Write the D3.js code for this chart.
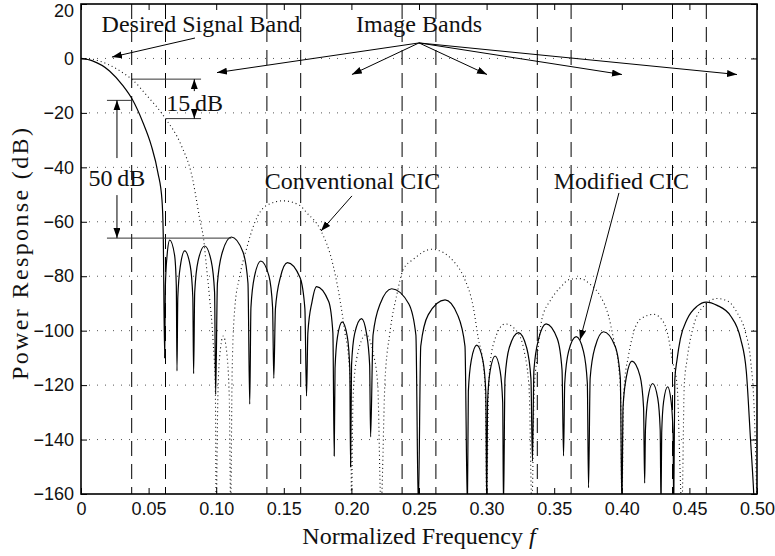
<!DOCTYPE html>
<html>
<head>
<meta charset="utf-8">
<title>CIC Power Response</title>
<script src="https://d3js.org/d3.v7.min.js"></script>
<style>
  body { margin: 0; background: #fff; }
  svg { font-family: "Liberation Serif", "Times New Roman", serif; }
  .frame { fill: none; stroke: #000; stroke-width: 1.6; }
  .grid line { stroke: #555; stroke-width: 1; stroke-dasharray: 1,7; }
  .edge { stroke: #000; stroke-width: 1; stroke-dasharray: 15,8; }
  .modified { fill: none; stroke: #000; stroke-width: 1.2; }
  .conventional { fill: none; stroke: #111; stroke-width: 1.1; stroke-dasharray: 1,3; }
  .ann { stroke: #333; stroke-width: 1; fill: none; }
  .arrow { stroke: #000; stroke-width: 1; fill: none; }
  .note { font-size: 24px; fill: #111; }
  .tick text { font-size: 18px; fill: #111; }
  .tick line { stroke: #000; }
</style>
</head>
<body>
<div id="chart"></div>
<script>
// axis ticks
const xTicks = [0, 0.05, 0.1, 0.15, 0.2, 0.25, 0.3, 0.35, 0.4, 0.45, 0.5];
const yTicks = [20, 0, -20, -40, -60, -80, -100, -120, -140, -160];

// band edges (dashed lines)
const bandEdges = [0.0375, 0.0625, 0.1375, 0.1625, 0.2375, 0.2625, 0.3375, 0.3625, 0.4375, 0.4625];

// Modified CIC (solid), [f, dB]
const modified = [
  [0,0],[0.0085,-0.9],[0.0211,-4.6],[0.031,-10],[0.0379,-15],[0.0458,-23.5],[0.052,-32],[0.0569,-42],[0.0599,-52],[0.0608,-64],[0.0619,-110],
  [0.0624,-83.7],[0.0637,-72.2],[0.0656,-66.7],[0.0692,-72.2],[0.0705,-83.7],[0.0710,-114.8],
  [0.0716,-87.7],[0.0735,-76.2],[0.0767,-70.7],[0.0808,-76.2],[0.0827,-87.7],[0.0833,-115.8],
  [0.0841,-85.9],[0.0866,-74.4],[0.0915,-68.9],[0.0963,-74.4],[0.0988,-85.9],[0.0996,-123.4],
  [0.1009,-82.6],[0.1046,-71.1],[0.1112,-65.6],[0.1198,-71.1],[0.1235,-82.6],[0.1248,-127],
  [0.1257,-91.4],[0.1284,-79.9],[0.133,-74.4],[0.139,-79.9],[0.1417,-91.4],[0.1426,-117.5],
  [0.1438,-92],[0.1474,-80.5],[0.1527,-75],[0.162,-80.5],[0.1656,-92],[0.1668,-124],
  [0.1678,-100.8],[0.1709,-89.3],[0.1742,-83.8],[0.1832,-89.3],[0.1863,-100.8],[0.1873,-146],
  [0.1879,-113.8],[0.1897,-102.3],[0.1932,-96.8],[0.197,-102.3],[0.1988,-113.8],[0.1994,-150],
  [0.2001,-112.6],[0.2024,-101.1],[0.2075,-95.6],[0.2112,-101.1],[0.2135,-112.6],[0.2142,-139],
  [0.216,-101.6],[0.2213,-90.1],[0.2298,-84.6],[0.2424,-90.1],[0.2477,-101.6],[0.2495,-165],
  [0.2513,-105.7],[0.2568,-94.2],[0.2693,-88.7],[0.2785,-94.2],[0.284,-105.7],[0.2858,-165],
  [0.2865,-122.3],[0.2887,-110.8],[0.2927,-105.3],[0.2972,-110.8],[0.2994,-122.3],[0.3001,-165],
  [0.3007,-126.3],[0.3026,-114.8],[0.3063,-109.3],[0.31,-114.8],[0.3119,-126.3],[0.3125,-165],
  [0.3136,-117.7],[0.3168,-106.2],[0.3236,-100.7],[0.3296,-106.2],[0.3328,-117.7],[0.3339,-148],
  [0.335,-114.5],[0.3385,-103],[0.344,-97.5],[0.3523,-103],[0.3558,-114.5],[0.3569,-146],
  [0.3578,-119.2],[0.3606,-107.7],[0.3663,-102.2],[0.3717,-107.7],[0.3745,-119.2],[0.3754,-157.7],
  [0.3766,-117.4],[0.3803,-105.9],[0.3865,-100.4],[0.3952,-105.9],[0.3989,-117.4],[0.4001,-165],
  [0.4009,-128.2],[0.4035,-116.7],[0.4075,-111.2],[0.4135,-116.7],[0.4161,-128.2],[0.4169,-156],
  [0.4175,-136.4],[0.4193,-124.9],[0.4228,-119.4],[0.4266,-124.9],[0.4284,-136.4],[0.429,-165],
  [0.4295,-137.6],[0.4309,-126.1],[0.4339,-120.6],[0.4365,-126.1],[0.4379,-137.6],[0.4384,-165],
  [0.4392,-118],[0.4409,-110.5],[0.4433,-103],[0.4483,-95.8],[0.4557,-91],[0.4624,-89.5],[0.4705,-90.7],
  [0.4805,-94.6],[0.4879,-103],[0.4921,-115],[0.4952,-140],[0.4976,-160],[0.4985,-170]
];

// Conventional CIC (dotted), [f, dB]
const conventional = [
  [0,0],[0.0085,-0.3],[0.02,-2.2],[0.0337,-6.2],[0.0375,-7.6],[0.0485,-13.5],[0.0625,-22.1],[0.0742,-32],
  [0.0826,-44.4],[0.0853,-51.7],[0.0878,-59],[0.0907,-66.4],[0.0927,-76],[0.0952,-88.5],[0.0976,-103],[0.0994,-122.7],[0.1,-165],
  [0.1012,-125],[0.1025,-110],[0.1052,-102],[0.1078,-108],[0.1097,-125],[0.1107,-165],
  [0.1118,-115],[0.1137,-92],[0.1174,-80],[0.1224,-70],[0.1285,-60.3],[0.1372,-54],[0.1495,-52.3],[0.1619,-54],
  [0.1668,-56.6],[0.1772,-63],[0.1865,-76],[0.1915,-88.5],[0.1952,-100.7],[0.1984,-113],[0.1996,-125],[0.2,-165],
  [0.2012,-125],[0.204,-110],[0.2108,-101.5],[0.216,-108],[0.2195,-120],[0.2219,-165],
  [0.2248,-119],[0.2285,-100.7],[0.2335,-87],[0.2384,-77.5],[0.2458,-73.8],[0.2594,-70.1],[0.268,-71.3],[0.2754,-74.4],
  [0.2828,-80],[0.2902,-91.5],[0.2939,-103],[0.2976,-113],[0.2992,-125],[0.3,-165],
  [0.3015,-120],[0.305,-105],[0.3137,-97.5],[0.322,-100],[0.328,-108],[0.3315,-122],[0.3335,-165],
  [0.3352,-122],[0.3372,-110.6],[0.3409,-95.8],[0.347,-89],[0.3544,-84.2],[0.3619,-81.1],[0.3693,-80.9],[0.3767,-83],
  [0.3841,-87.3],[0.3902,-94.6],[0.3939,-103],[0.3976,-113],[0.3992,-125],[0.4,-165],
  [0.4015,-122],[0.405,-109],[0.4087,-100.7],[0.4137,-95.8],[0.4236,-94],[0.431,-97],[0.4347,-103],[0.4372,-110.5],[0.4409,-120],[0.4445,-165],
  [0.4462,-120],[0.4483,-110.5],[0.4532,-98],[0.4606,-91],[0.4705,-88.2],[0.4779,-89],[0.4853,-93.4],[0.4915,-100.7],
  [0.4952,-110.5],[0.498,-130],[0.5,-165]
];

// annotation arrows, [from f, from dB, to f, to dB]
const arrows = [
  [0.0843, 7.5, 0.0229, 0.5],      // desired signal band
  [0.25, 5.7, 0.1006, -5.2],       // image bands
  [0.25, 5.7, 0.2004, -5.9],
  [0.25, 5.7, 0.3003, -5.9],
  [0.25, 5.7, 0.4001, -5.9],
  [0.25, 5.7, 0.4852, -5.9],
  [0.2004, -50.5, 0.1775, -63.4],  // conventional
  [0.3979, -49.4, 0.3691, -103.4], // modified
  [0.0266, -36.6, 0.0266, -15.4],  // 50 dB up
  [0.0266, -50.2, 0.0266, -66],    // 50 dB down
  [0.0838, -12, 0.0838, -7.6],     // 15 dB up
  [0.0838, -19.1, 0.0838, -22.1]   // 15 dB down
];

// level lines for dB annotations, [f1, f2, dB]
const levels = [
  [0.0192, 0.0385, -15.4],
  [0.0192, 0.1112, -66],
  [0.0375, 0.0888, -7.6],
  [0.0625, 0.0888, -22.1]
];

// labels, [text, f, dB]
const notes = [
  ["Desired Signal Band", 0.0887, 9.8],
  ["Image Bands", 0.25, 9.7],
  ["Conventional CIC", 0.2008, -48.1],
  ["Modified CIC", 0.3997, -48.1],
  ["50\u2009dB", 0.0266, -46.9],
  ["15\u2009dB", 0.084, -19.3]
];

const width = 775, height = 556;
const margin = {top: 4, right: 18, bottom: 62, left: 81};

const x = d3.scaleLinear().domain([0, 0.5]).range([margin.left, width - margin.right]);
const y = d3.scaleLinear().domain([-160, 20]).range([height - margin.bottom, margin.top]);

const svg = d3.select("#chart").append("svg")
  .attr("width", width)
  .attr("height", height);

const defs = svg.append("defs");
defs.append("clipPath").attr("id", "plot")
  .append("rect")
  .attr("x", margin.left).attr("y", margin.top)
  .attr("width", x(0.5) - x(0)).attr("height", y(-160) - y(20));

defs.append("marker")
  .attr("id", "head")
  .attr("markerUnits", "userSpaceOnUse")
  .attr("markerWidth", 11).attr("markerHeight", 8)
  .attr("refX", 10).attr("refY", 3.5)
  .attr("orient", "auto")
  .append("path")
  .attr("d", "M0,0L10,3.5L0,7Z")
  .attr("fill", "#000");

// horizontal grid
svg.append("g").attr("class", "grid")
  .selectAll("line")
  .data(yTicks.filter(d => d < 20 && d > -160))
  .join("line")
  .attr("x1", x(0)).attr("x2", x(0.5))
  .attr("y1", d => y(d)).attr("y2", d => y(d));

// band edges
svg.append("g")
  .selectAll("line")
  .data(bandEdges)
  .join("line")
  .attr("class", "edge")
  .attr("x1", d => x(d)).attr("x2", d => x(d))
  .attr("y1", y(20)).attr("y2", y(-160));

const line = d3.line()
  .x(d => x(d[0]))
  .y(d => y(d[1]))
  .curve(d3.curveMonotoneX);

const plot = svg.append("g").attr("clip-path", "url(#plot)");

plot.append("path")
  .datum(conventional)
  .attr("class", "conventional")
  .attr("d", line);

plot.append("path")
  .datum(modified)
  .attr("class", "modified")
  .attr("d", line);

// annotations
svg.append("g")
  .selectAll("line")
  .data(levels)
  .join("line")
  .attr("class", "ann")
  .attr("x1", d => x(d[0])).attr("x2", d => x(d[1]))
  .attr("y1", d => y(d[2])).attr("y2", d => y(d[2]));

svg.append("g")
  .selectAll("line")
  .data(arrows)
  .join("line")
  .attr("class", "arrow")
  .attr("x1", d => x(d[0])).attr("y1", d => y(d[1]))
  .attr("x2", d => x(d[2])).attr("y2", d => y(d[3]))
  .attr("marker-end", "url(#head)");

svg.append("g")
  .selectAll("text")
  .data(notes)
  .join("text")
  .attr("class", "note")
  .attr("x", d => x(d[1]))
  .attr("y", d => y(d[2]))
  .attr("text-anchor", "middle")
  .text(d => d[0]);

// axes
const fmtX = d => d === 0 ? "0" : d3.format(".2f")(d);

const gx = svg.append("g")
  .attr("transform", `translate(0,${y(-160)})`)
  .call(d3.axisBottom(x).tickValues(xTicks).tickFormat(fmtX).tickSize(-6).tickPadding(8));
gx.select(".domain").remove();

const gy = svg.append("g")
  .attr("transform", `translate(${x(0)},0)`)
  .call(d3.axisLeft(y).tickValues(yTicks).tickFormat(d3.format("d")).tickSize(-6).tickPadding(7));
gy.select(".domain").remove();
// keep the top label inside the picture
gy.selectAll(".tick").filter(d => d === 20).select("text").attr("dy", "0.72em");

svg.append("g")
  .attr("transform", `translate(0,${y(20)})`)
  .call(d3.axisTop(x).tickValues(xTicks).tickFormat("").tickSize(-6))
  .select(".domain").remove();

svg.append("g")
  .attr("transform", `translate(${x(0.5)},0)`)
  .call(d3.axisRight(y).tickValues(yTicks).tickFormat("").tickSize(-6))
  .select(".domain").remove();

svg.selectAll(".tick text").attr("font-family", null).attr("font-size", null);

svg.append("rect")
  .attr("class", "frame")
  .attr("x", x(0)).attr("y", y(20))
  .attr("width", x(0.5) - x(0))
  .attr("height", y(-160) - y(20));

// axis titles
const xt = svg.append("text")
  .attr("class", "note")
  .attr("x", (x(0) + x(0.5)) / 2)
  .attr("y", 544)
  .attr("text-anchor", "middle");
xt.append("tspan").text("Normalized Frequency ");
xt.append("tspan").attr("font-style", "italic").text("f");

svg.append("text")
  .attr("class", "note")
  .attr("transform", "translate(28,254) rotate(-90)")
  .attr("text-anchor", "middle")
  .attr("textLength", 252)
  .attr("lengthAdjust", "spacing")
  .text("Power Response (dB)");
</script>
</body>
</html>
